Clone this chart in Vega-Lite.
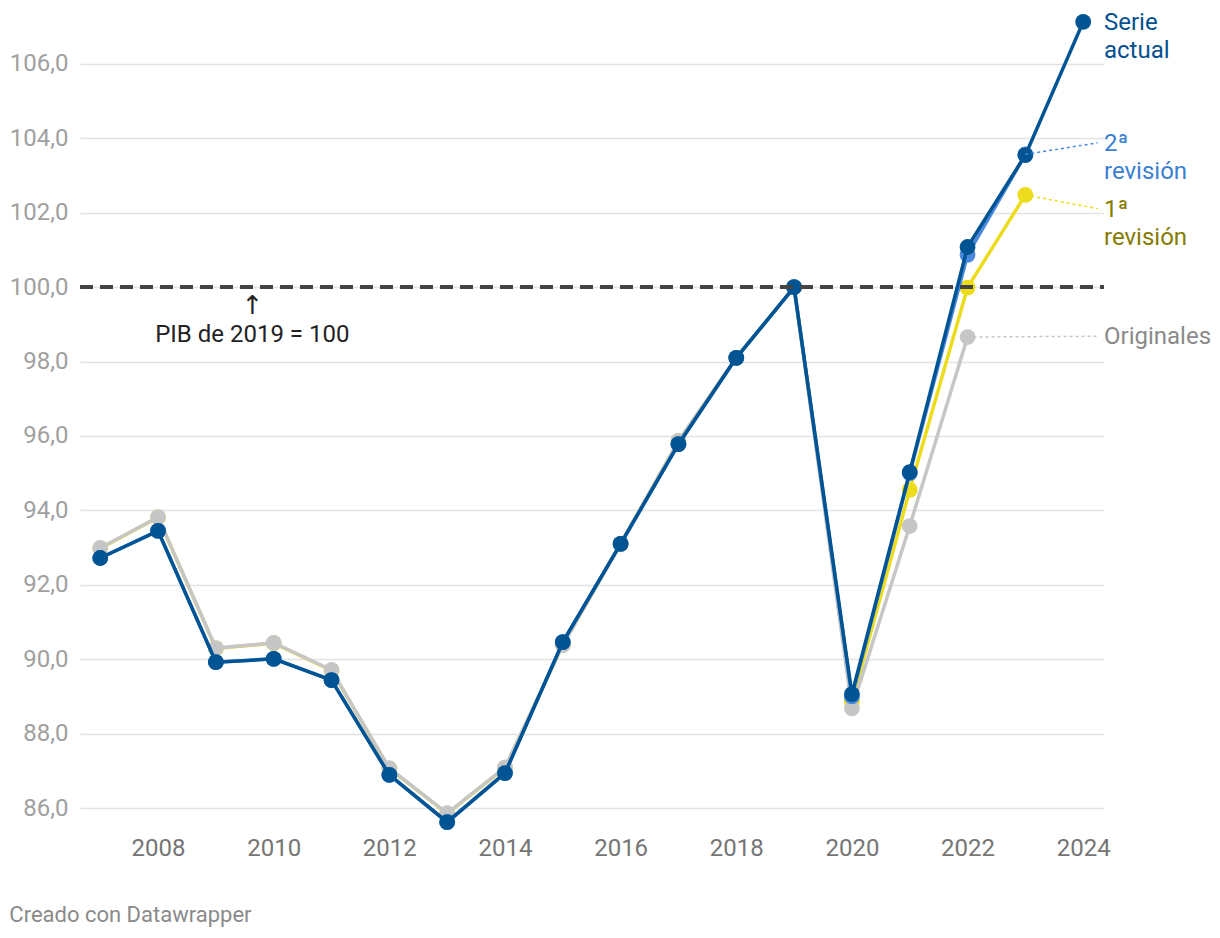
{
  "$schema": "https://vega.github.io/schema/vega-lite/v6.json",
  "autosize": {"type": "none"},
  "width": 1024,
  "height": 820,
  "padding": {"left": 80, "top": 10, "right": 116, "bottom": 108},
  "background": "white",
  "config": {
    "view": {"stroke": null},
    "font": "Roboto",
    "title": {"font": "Roboto", "fontSize": 22, "fontWeight": "normal", "color": "#8a8a8a"}
  },
  "title": {"text": "Creado con Datawrapper", "orient": "bottom", "anchor": "start", "frame": "bounds", "offset": 45},
  "datasets": {
    "gdp": [
      {"year": 2007, "series": "Serie actual", "value": 92.72},
      {"year": 2008, "series": "Serie actual", "value": 93.45},
      {"year": 2009, "series": "Serie actual", "value": 89.92},
      {"year": 2010, "series": "Serie actual", "value": 90.01},
      {"year": 2011, "series": "Serie actual", "value": 89.44},
      {"year": 2012, "series": "Serie actual", "value": 86.89},
      {"year": 2013, "series": "Serie actual", "value": 85.62},
      {"year": 2014, "series": "Serie actual", "value": 86.94},
      {"year": 2015, "series": "Serie actual", "value": 90.46},
      {"year": 2016, "series": "Serie actual", "value": 93.10},
      {"year": 2017, "series": "Serie actual", "value": 95.78},
      {"year": 2018, "series": "Serie actual", "value": 98.10},
      {"year": 2019, "series": "Serie actual", "value": 100.0},
      {"year": 2020, "series": "Serie actual", "value": 89.06},
      {"year": 2021, "series": "Serie actual", "value": 95.03},
      {"year": 2022, "series": "Serie actual", "value": 101.08},
      {"year": 2023, "series": "Serie actual", "value": 103.55},
      {"year": 2024, "series": "Serie actual", "value": 107.13},
      {"year": 2007, "series": "Originales", "value": 92.99},
      {"year": 2008, "series": "Originales", "value": 93.82},
      {"year": 2009, "series": "Originales", "value": 90.30},
      {"year": 2010, "series": "Originales", "value": 90.44},
      {"year": 2011, "series": "Originales", "value": 89.71},
      {"year": 2012, "series": "Originales", "value": 87.07},
      {"year": 2013, "series": "Originales", "value": 85.86},
      {"year": 2014, "series": "Originales", "value": 87.09},
      {"year": 2015, "series": "Originales", "value": 90.38},
      {"year": 2016, "series": "Originales", "value": 93.10},
      {"year": 2017, "series": "Originales", "value": 95.87},
      {"year": 2018, "series": "Originales", "value": 98.10},
      {"year": 2019, "series": "Originales", "value": 100.0},
      {"year": 2020, "series": "Originales", "value": 88.68},
      {"year": 2021, "series": "Originales", "value": 93.58},
      {"year": 2022, "series": "Originales", "value": 98.66},
      {"year": 2007, "series": "1ª revisión", "value": 92.98},
      {"year": 2008, "series": "1ª revisión", "value": 93.81},
      {"year": 2009, "series": "1ª revisión", "value": 90.29},
      {"year": 2010, "series": "1ª revisión", "value": 90.43},
      {"year": 2011, "series": "1ª revisión", "value": 89.70},
      {"year": 2012, "series": "1ª revisión", "value": 87.06},
      {"year": 2013, "series": "1ª revisión", "value": 85.85},
      {"year": 2014, "series": "1ª revisión", "value": 87.08},
      {"year": 2015, "series": "1ª revisión", "value": 90.39},
      {"year": 2016, "series": "1ª revisión", "value": 93.10},
      {"year": 2017, "series": "1ª revisión", "value": 95.86},
      {"year": 2018, "series": "1ª revisión", "value": 98.10},
      {"year": 2019, "series": "1ª revisión", "value": 100.0},
      {"year": 2020, "series": "1ª revisión", "value": 88.86},
      {"year": 2021, "series": "1ª revisión", "value": 94.55},
      {"year": 2022, "series": "1ª revisión", "value": 99.99},
      {"year": 2023, "series": "1ª revisión", "value": 102.48},
      {"year": 2007, "series": "2ª revisión", "value": 92.72},
      {"year": 2008, "series": "2ª revisión", "value": 93.45},
      {"year": 2009, "series": "2ª revisión", "value": 89.92},
      {"year": 2010, "series": "2ª revisión", "value": 90.01},
      {"year": 2011, "series": "2ª revisión", "value": 89.44},
      {"year": 2012, "series": "2ª revisión", "value": 86.89},
      {"year": 2013, "series": "2ª revisión", "value": 85.62},
      {"year": 2014, "series": "2ª revisión", "value": 86.94},
      {"year": 2015, "series": "2ª revisión", "value": 90.46},
      {"year": 2016, "series": "2ª revisión", "value": 93.10},
      {"year": 2017, "series": "2ª revisión", "value": 95.78},
      {"year": 2018, "series": "2ª revisión", "value": 98.10},
      {"year": 2019, "series": "2ª revisión", "value": 100.0},
      {"year": 2020, "series": "2ª revisión", "value": 89.0},
      {"year": 2021, "series": "2ª revisión", "value": 95.0},
      {"year": 2022, "series": "2ª revisión", "value": 100.87},
      {"year": 2023, "series": "2ª revisión", "value": 103.57}
    ],
    "labels": [
      {"series": "Serie actual", "text": ["Serie", "actual"], "year": 2024, "value": 107.13, "labelValue": 107.14},
      {"series": "2ª revisión", "text": ["2ª", "revisión"], "year": 2023, "value": 103.57, "labelValue": 103.88},
      {"series": "1ª revisión", "text": ["1ª", "revisión"], "year": 2023, "value": 102.48, "labelValue": 102.11},
      {"series": "Originales", "text": ["Originales"], "year": 2022, "value": 98.66, "labelValue": 98.68}
    ],
    "note": [
      {"year": 2009.63, "value": 100, "arrow": "↑", "label": "PIB de 2019 = 100"}
    ]
  },
  "encoding": {
    "x": {
      "field": "year", "type": "quantitative",
      "scale": {"domain": [2006.65, 2024.36], "nice": false, "zero": false},
      "axis": {
        "title": null, "values": [2008, 2010, 2012, 2014, 2016, 2018, 2020, 2022, 2024],
        "format": "d", "grid": false, "domain": false, "ticks": false,
        "labelFontSize": 24, "labelColor": "#757575", "labelPadding": 6, "labelFont": "Roboto",
        "labelFlush": false, "labelOverlap": false
      }
    },
    "y": {
      "field": "value", "type": "quantitative",
      "scale": {"domain": [85.41, 107.45], "nice": false, "zero": false},
      "axis": {
        "title": null, "values": [86, 88, 90, 92, 94, 96, 98, 100, 102, 104, 106],
        "labelExpr": "replace(format(datum.value, '.1f'), '.', ',')",
        "grid": true, "gridColor": "#e3e3e3", "gridWidth": 1.5,
        "domain": false, "ticks": false,
        "labelFontSize": 24, "labelColor": "#a0a0a0", "labelPadding": 12, "labelFont": "Roboto"
      }
    }
  },
  "layer": [
    {
      "data": {"name": "gdp"},
      "transform": [{"filter": "datum.series === '1ª revisión'"}],
      "mark": {"type": "line", "color": "#ecdc1c", "strokeWidth": 3.5, "point": {"filled": true, "size": 250, "color": "#ecdc1c", "opacity": 1}}
    },
    {
      "data": {"name": "gdp"},
      "transform": [{"filter": "datum.series === 'Originales'"}],
      "mark": {"type": "line", "color": "#c6c6c6", "strokeWidth": 3.5, "point": {"filled": true, "size": 250, "color": "#c6c6c6", "opacity": 1}}
    },
    {
      "data": {"name": "gdp"},
      "transform": [{"filter": "datum.series === '2ª revisión'"}],
      "mark": {"type": "line", "color": "#4a8ade", "strokeWidth": 3.5, "point": {"filled": true, "size": 250, "color": "#4a8ade", "opacity": 1}}
    },
    {
      "data": {"name": "gdp"},
      "transform": [{"filter": "datum.series === 'Serie actual'"}],
      "mark": {"type": "line", "color": "#005493", "strokeWidth": 3.5, "point": {"filled": true, "size": 250, "color": "#005493", "opacity": 1}}
    },
    {
      "data": {"name": "gdp"},
      "mark": {"type": "rule", "color": "#444444", "strokeWidth": 3, "strokeDash": [13, 7]},
      "encoding": {"x": {"value": 0}, "x2": {"value": "width"}, "y": {"datum": 100}}
    },
    {
      "data": {"name": "labels"},
      "transform": [{"filter": "datum.series !== 'Serie actual'"}],
      "mark": {"type": "rule", "strokeWidth": 1.5, "strokeDash": [3, 3]},
      "encoding": {
        "x2": {"datum": 2024.25},
        "y2": {"field": "labelValue"},
        "color": {
          "field": "series", "type": "nominal", "legend": null,
          "scale": {"domain": ["2ª revisión", "1ª revisión", "Originales"], "range": ["#4a8ade", "#ecdc1c", "#c6c6c6"]}
        }
      }
    },
    {
      "data": {"name": "labels"},
      "mark": {"type": "text", "align": "left", "baseline": "alphabetic", "fontSize": 24, "lineHeight": 28, "dy": 8, "font": "Roboto"},
      "encoding": {
        "x": {"value": "width"},
        "y": {"field": "labelValue", "type": "quantitative"},
        "text": {"field": "text"},
        "color": {
          "field": "series", "type": "nominal", "legend": null,
          "scale": {"domain": ["Serie actual", "2ª revisión", "1ª revisión", "Originales"], "range": ["#05508f", "#3b7fd0", "#857b00", "#8a8a8a"]}
        }
      }
    },
    {
      "data": {"name": "note"},
      "mark": {"type": "text", "align": "center", "baseline": "alphabetic", "fontSize": 26, "dy": 27, "color": "#222222", "font": "DejaVu Sans"},
      "encoding": {
        "text": {"field": "arrow"}
      }
    },
    {
      "data": {"name": "note"},
      "mark": {"type": "text", "align": "center", "baseline": "alphabetic", "fontSize": 24, "dy": 55, "color": "#222222", "font": "Roboto"},
      "encoding": {
        "text": {"field": "label"}
      }
    }
  ],
  "resolve": {"scale": {"color": "independent"}}
}
